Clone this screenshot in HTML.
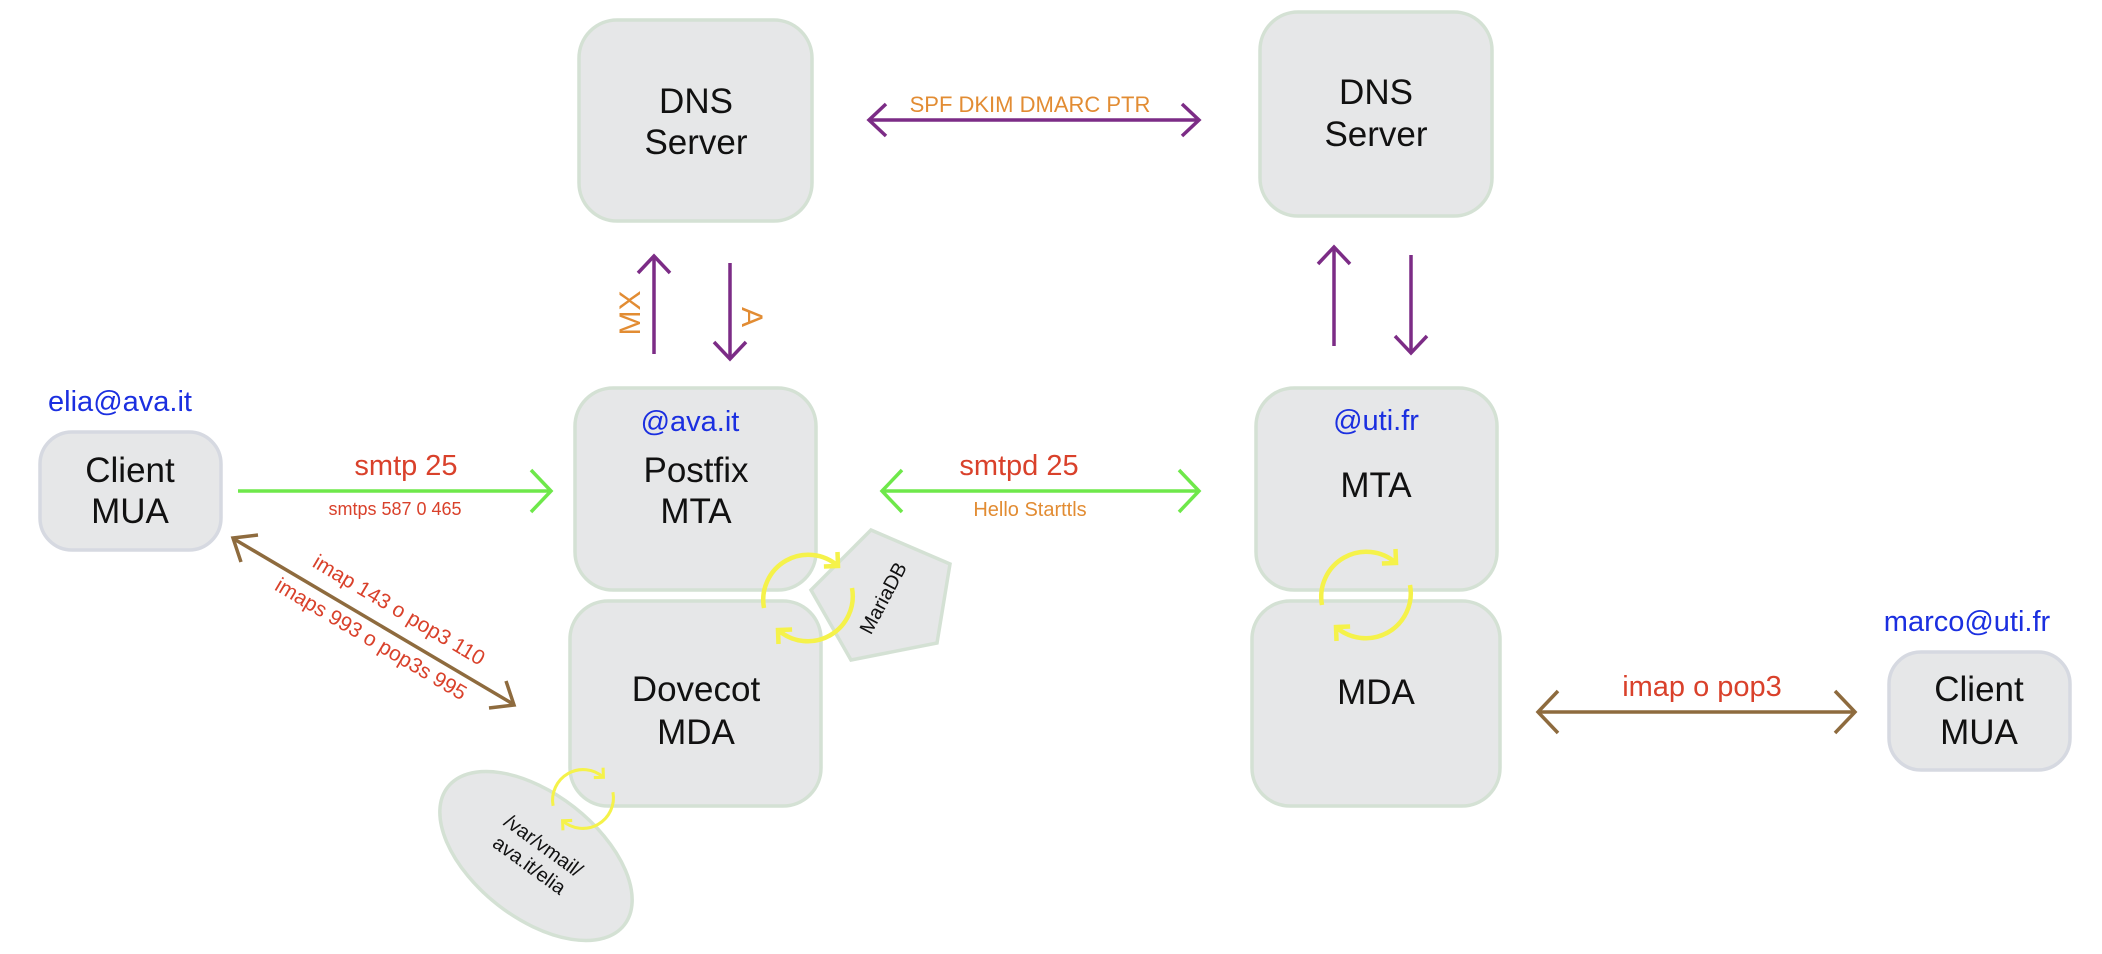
<!DOCTYPE html>
<html><head><meta charset="utf-8"><style>
html,body{margin:0;padding:0;background:#fff;}
svg{display:block;}
text{font-family:"Liberation Sans",Arial,sans-serif;}
</style></head><body>
<svg width="2102" height="954" viewBox="0 0 2102 954" xmlns="http://www.w3.org/2000/svg">
<defs>
<g id="cyc" fill="none" stroke="#f5f24a" stroke-width="4.5">
<path d="M -44 10 A 45 45 0 0 1 30 -32"/>
<path d="M 44 -10 A 45 45 0 0 1 -30 32"/>
<path d="M 29.5 -46 L 30 -32 L 15.9 -31.5"/>
<path d="M -29.5 46 L -30 32 L -15.9 31.5"/>
</g>
</defs>
<g fill="#e6e7e8" stroke="#d4e1d4" stroke-width="3.5">
<rect x="579" y="20" width="233" height="201" rx="38"/>
<rect x="1260" y="12" width="232" height="204" rx="38"/>
<rect x="575" y="388" width="241" height="202" rx="38"/>
<rect x="570" y="601" width="251" height="205" rx="38"/>
<rect x="1256" y="388" width="241" height="202" rx="38"/>
<rect x="1252" y="601" width="248" height="205" rx="38"/>
<polygon points="871,530 950,564 937,643 851,660 811,590"/>
<ellipse cx="536" cy="856" rx="112" ry="62" transform="rotate(38 536 856)"/>
</g>
<g fill="#e6e7e8" stroke="#d6d9e1" stroke-width="3.5">
<rect x="40" y="432" width="181" height="118" rx="32"/>
<rect x="1889" y="652" width="181" height="118" rx="32"/>
</g>
<g font-size="35" fill="#111" text-anchor="middle">
<text x="696" y="113">DNS</text><text x="696" y="154">Server</text>
<text x="1376" y="104">DNS</text><text x="1376" y="146">Server</text>
<text x="696" y="482">Postfix</text><text x="696" y="523">MTA</text>
<text x="696" y="701">Dovecot</text><text x="696" y="744">MDA</text>
<text x="1376" y="497">MTA</text>
<text x="1376" y="704">MDA</text>
<text x="130" y="482">Client</text><text x="130" y="523">MUA</text>
<text x="1979" y="701">Client</text><text x="1979" y="744">MUA</text>
</g>
<g font-size="29" fill="#1b2fe0" text-anchor="middle">
<text x="120" y="411">elia@ava.it</text>
<text x="690" y="431">@ava.it</text>
<text x="1376" y="430">@uti.fr</text>
<text x="1967" y="631">marco@uti.fr</text>
</g>
<g stroke="#7c2c86" stroke-width="3.5" fill="none">
<line x1="870" y1="120" x2="1198" y2="120"/>
<path d="M 886 104 L 869 120 L 886 136"/>
<path d="M 1182 104 L 1199 120 L 1182 136"/>
<line x1="654" y1="354" x2="654" y2="257"/>
<path d="M 638 273 L 654 256 L 670 273"/>
<line x1="730" y1="263" x2="730" y2="358"/>
<path d="M 714 342 L 730 359 L 746 342"/>
<line x1="1334" y1="346" x2="1334" y2="248"/>
<path d="M 1318 264 L 1334 247 L 1350 264"/>
<line x1="1411" y1="255" x2="1411" y2="352"/>
<path d="M 1395 336 L 1411 353 L 1427 336"/>
</g>
<g stroke="#6ee84a" stroke-width="3.5" fill="none">
<line x1="238" y1="491" x2="551" y2="491"/>
<path d="M 531 470 L 551 491 L 531 512"/>
<line x1="882" y1="491" x2="1199" y2="491"/>
<path d="M 902 470 L 882 491 L 902 512"/>
<path d="M 1179 470 L 1199 491 L 1179 512"/>
</g>
<g stroke="#8e6b3e" stroke-width="3.5" fill="none">
<line x1="234" y1="539" x2="513" y2="704"/>
<path d="M 241 562 L 233 538 L 258 535"/>
<path d="M 506 681 L 514 705 L 489 708"/>
<line x1="1538" y1="712" x2="1855" y2="712"/>
<path d="M 1558 691 L 1538 712 L 1558 733"/>
<path d="M 1835 691 L 1855 712 L 1835 733"/>
</g>
<text x="1030" y="112" font-size="22" fill="#e28c33" text-anchor="middle">SPF DKIM DMARC PTR</text>
<text x="630" y="313" font-size="30" fill="#e28c33" text-anchor="middle" transform="rotate(-90 630 313)" dy="10">MX</text>
<text x="752" y="317" font-size="30" fill="#e28c33" text-anchor="middle" transform="rotate(90 752 317)" dy="10">A</text>
<text x="406" y="475" font-size="29" fill="#d9412b" text-anchor="middle">smtp 25</text>
<text x="395" y="515" font-size="18" fill="#d9412b" text-anchor="middle">smtps 587 0 465</text>
<text x="1019" y="475" font-size="29" fill="#d9412b" text-anchor="middle">smtpd 25</text>
<text x="1030" y="516" font-size="20" fill="#e28c33" text-anchor="middle">Hello Starttls</text>
<text x="1702" y="696" font-size="29" fill="#d9412b" text-anchor="middle">imap o pop3</text>
<text x="399" y="617" font-size="21" fill="#d9412b" text-anchor="middle" transform="rotate(30.7 399 610)">imap 143 o pop3 110</text>
<text x="371" y="646" font-size="21" fill="#d9412b" text-anchor="middle" transform="rotate(30.7 371 639)">imaps 993 o pop3s 995</text>
<text x="883" y="605" font-size="20" fill="#111" text-anchor="middle" transform="rotate(-62 883 598)">MariaDB</text>
<g font-size="20" fill="#111" text-anchor="middle" transform="rotate(36 536 856)">
<text x="536" y="850">/var/vmail/</text>
<text x="536" y="874">ava.it/elia</text>
</g>
<use href="#cyc" transform="translate(808 598)"/>
<use href="#cyc" transform="translate(1366 595)"/>
<use href="#cyc" transform="translate(583 799) scale(0.68)"/>
</svg>
</body></html>
